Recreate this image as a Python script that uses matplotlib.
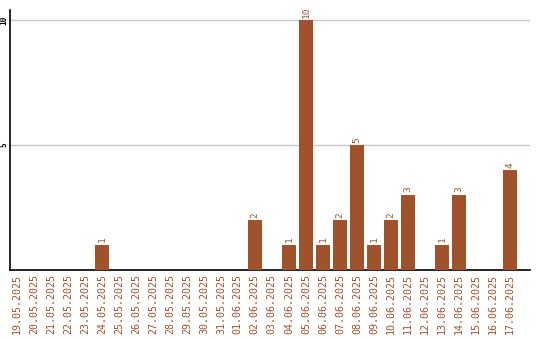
import matplotlib
matplotlib.use("Agg")
import matplotlib.pyplot as plt

dates = ["19.05.2025", "20.05.2025", "21.05.2025", "22.05.2025", "23.05.2025",
         "24.05.2025", "25.05.2025", "26.05.2025", "27.05.2025", "28.05.2025",
         "29.05.2025", "30.05.2025", "31.05.2025", "01.06.2025", "02.06.2025",
         "03.06.2025", "04.06.2025", "05.06.2025", "06.06.2025", "07.06.2025",
         "08.06.2025", "09.06.2025", "10.06.2025", "11.06.2025", "12.06.2025",
         "13.06.2025", "14.06.2025", "15.06.2025", "16.06.2025", "17.06.2025"]
values = [0, 0, 0, 0, 0,
          1, 0, 0, 0, 0,
          0, 0, 0, 0, 2,
          0, 1, 10, 1, 2,
          5, 1, 2, 3, 0,
          1, 3, 0, 0, 4]
yticks = [5, 10]

color = "#A0522D"
mono = "DejaVu Sans Mono"

fig = plt.figure(figsize=(5.4, 3.4), dpi=100)
ax = fig.add_axes([10/540, 70/340, 520/540, 260/340])

x = list(range(len(dates)))
ax.bar(x, values, width=0.8, color=color, zorder=3)
for xi, v in zip(x, values):
    if v > 0:
        ax.text(xi, v + 0.1, str(v), rotation=90, ha="center", va="bottom",
                color=color, fontsize=6.8, family=mono)

ax.set_xlim(-0.4, 30.18)
ax.set_ylim(0, 10.4)
ax.set_yticks(yticks)
ax.set_yticklabels([str(t) for t in yticks], rotation=90, va="center",
                   fontsize=5.6, family=mono, fontweight="bold")
ax.yaxis.grid(True, color="#c8c8c8", linewidth=1, zorder=0)
ax.set_xticks(x)
ax.set_xticklabels(dates, rotation=90, color=color, fontsize=7.2, family=mono)
ax.tick_params(axis="both", length=0, pad=3)
ax.tick_params(axis="y", pad=1)
for s in ["top", "right"]:
    ax.spines[s].set_visible(False)
for s in ["left", "bottom"]:
    ax.spines[s].set_color("black")
    ax.spines[s].set_linewidth(1.2)

fig.savefig("out.png", dpi=100)
